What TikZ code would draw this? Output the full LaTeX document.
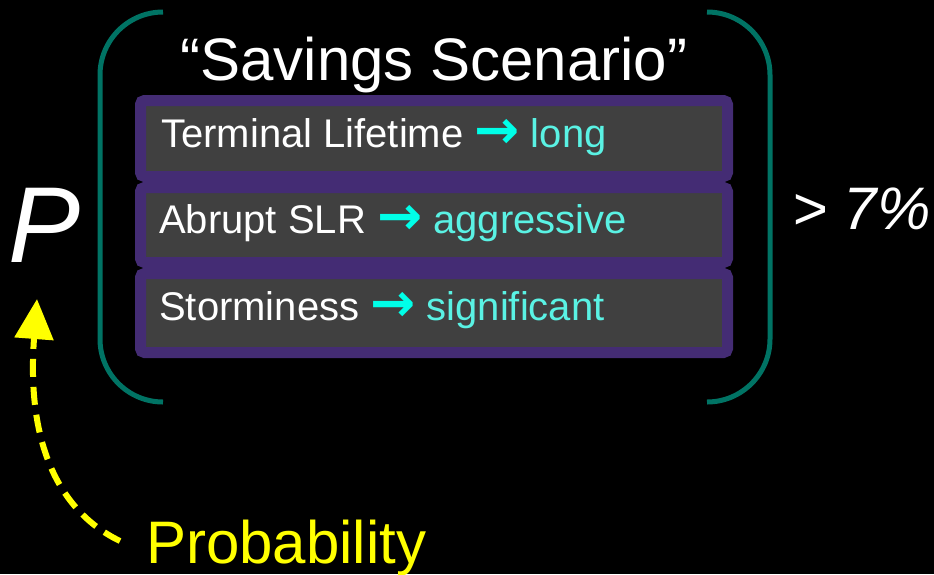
\documentclass[tikz,border=0pt]{standalone}
\usepackage{fontspec}
\setmainfont{Liberation Sans}
\newfontfamily\arrowfont{DejaVu Sans}
\usetikzlibrary{arrows.meta}
\definecolor{tealc}{RGB}{0,115,100}
\definecolor{purplec}{RGB}{68,44,116}
\definecolor{grayc}{RGB}{64,64,64}
\definecolor{cyant}{RGB}{90,242,228}
\definecolor{cyana}{RGB}{0,255,232}
\definecolor{yel}{RGB}{255,255,0}
\newcommand{\myarr}{{\arrowfont\bfseries\fontsize{54}{54}\selectfont\color{cyana}\raisebox{-1pt}{→}}}
\tikzset{
  bracket/.style={draw=tealc, line width=5pt},
  rowbox/.style={draw=purplec, fill=grayc, line width=11pt, rounded corners=4pt, minimum width=587pt, inner sep=0pt},
  rowtext/.style={anchor=base west, inner sep=0pt, text=white, font=\fontsize{40}{40}\selectfont},
}
\begin{document}
\begin{tikzpicture}[x=1pt,y=-1pt]
\fill[black] (0,0) rectangle (934,574);
\useasboundingbox (0,0) rectangle (934,574);
% brackets
\draw[bracket] (163,12) arc[start angle=270, end angle=180, radius=63] -- (100,339) arc[start angle=180, end angle=90, radius=63];
\draw[bracket] (707,12) arc[start angle=270, end angle=360, radius=63] -- (770,339) arc[start angle=0, end angle=90, radius=63];
% title
\node[anchor=base, inner sep=0pt, text=white, font=\fontsize{60}{60}\selectfont] (title) at (434,80) {“Savings Scenario”};
% rows
\node[rowbox, minimum height=76pt] (r1) at (434,138.5) {};
\node[rowbox, minimum height=75pt] (r2) at (434,225) {};
\node[rowbox, minimum height=79pt] (r3) at (434,313) {};
\node[rowtext] (t1) at (161,147) {Terminal Lifetime \myarr\ {\color{cyant}long}};
\node[rowtext] (t2) at (159,233) {Abrupt SLR \myarr\ {\color{cyant}aggressive}};
\node[rowtext] (t3) at (159,320) {Storminess \myarr\ {\color{cyant}significant}};
% P and > 7%
\node[anchor=base west, inner sep=0pt, text=white, font=\fontsize{108}{108}\selectfont\itshape] (P) at (8,262) {P};
\node[anchor=base west, inner sep=0pt, text=white, font=\fontsize{60}{60}\selectfont\itshape] (pct) at (792,229) {> 7\%};
% Probability
\node[anchor=base west, inner sep=0pt, text=yel, font=\fontsize{60}{60}\selectfont] (prob) at (146,563) {Probability};
\coordinate (as) at (120,541);
\coordinate (ae) at (37,299);
\draw[yel, line width=6pt, dash pattern=on 18pt off 10pt, -{Triangle[length=40pt,width=38pt]}]
  (as) .. controls (60,512) and (26,445) .. (ae);
\end{tikzpicture}
\end{document}
